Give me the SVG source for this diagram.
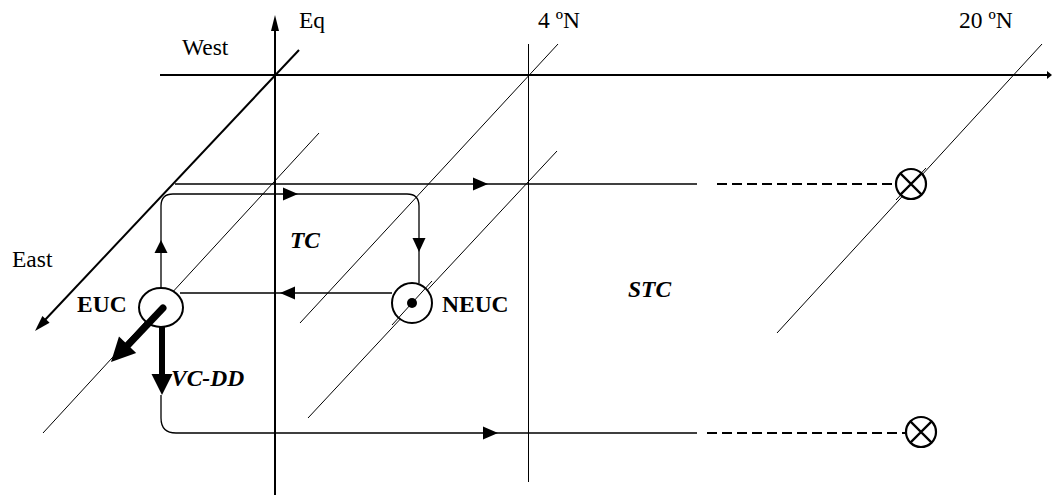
<svg xmlns="http://www.w3.org/2000/svg" width="1052" height="497" viewBox="0 0 1052 497">
<style>
.t{font-family:"Liberation Serif","Times New Roman",serif;font-size:23.5px;fill:#000}
.b{font-weight:bold}
.bi{font-weight:bold;font-style:italic}
.thin{stroke:#000;stroke-width:1;fill:none}
.med{stroke:#000;stroke-width:1.3;fill:none}
.ax{stroke:#000;stroke-width:2;fill:none}
.dash{stroke:#000;stroke-width:2;stroke-dasharray:10 5;fill:none}
.ah{fill:#000}
</style>
<rect width="1052" height="497" fill="#fff"/>
<g id="axes">
  <line class="ax" x1="160" y1="75" x2="1049" y2="75"/>
  <polygon class="ah" points="1047,71 1047,79 1052,75"/>
  <line class="ax" x1="275" y1="28" x2="275" y2="495"/>
  <polygon class="ah" points="275,15 271,31 279,31"/>
  <line class="ax" x1="299" y1="50" x2="44" y2="321"/>
  <polygon class="ah" points="35,331 49.6,322.7 42.4,315.9"/>
  <line class="thin" x1="528.5" y1="44" x2="528.5" y2="482"/>
</g>
<g id="diagonals">
  <line class="thin" x1="319" y1="133" x2="43" y2="433"/>
  <line class="thin" x1="558" y1="44" x2="300" y2="323"/>
  <line class="thin" x1="557" y1="151" x2="308" y2="418"/>
  <line class="thin" x1="1042" y1="44" x2="777" y2="333"/>
</g>
<g id="connectors">
  <line class="med" x1="175" y1="184" x2="697" y2="184"/>
  <polygon class="ah" points="488,184 473,177.5 473,190.5"/>
  <line class="dash" x1="717" y1="184" x2="896" y2="184"/>
  <path class="med" d="M161,287 V206 Q161,194 173,194 H407 Q419,194 419,206 V283"/>
  <polygon class="ah" points="161,240 154.5,253 167.5,253"/>
  <polygon class="ah" points="298,194 283,187.5 283,200.5"/>
  <polygon class="ah" points="419,252 412.5,238 425.5,238"/>
  <line class="med" x1="392" y1="293" x2="180" y2="293"/>
  <polygon class="ah" points="280,293 295,286.5 295,299.5"/>
  <path class="med" d="M161,395 V418 Q161,433 176,433 H697"/>
  <polygon class="ah" points="498,433 483,426.5 483,439.5"/>
  <line class="dash" x1="707" y1="433" x2="906" y2="433"/>
</g>
<g id="EUC">
  <ellipse cx="161" cy="307.5" rx="22" ry="19.5" fill="#fff" stroke="#000" stroke-width="2"/>
  <line x1="163" y1="308" x2="127" y2="346" stroke="#000" stroke-width="7" stroke-linecap="round"/>
  <polygon class="ah" points="111,362 136.2,353 119,336.4"/>
  <line x1="162" y1="327" x2="162" y2="376" stroke="#000" stroke-width="6"/>
  <polygon class="ah" points="151.5,374 172.5,374 162,395"/>
  <text class="t b" x="77" y="312">EUC</text>
</g>
<g id="NEUC">
  <circle cx="412" cy="303" r="20" fill="#fff" stroke="#000" stroke-width="2"/>
  <line class="thin" x1="432" y1="281" x2="392" y2="325"/>
  <circle cx="412" cy="303" r="5" fill="#000"/>
  <text class="t b" x="442" y="312">NEUC</text>
</g>
<g id="sink-top">
  <circle cx="911" cy="184" r="15" fill="#fff" stroke="#000" stroke-width="2.2"/>
  <line class="thin" x1="926" y1="168" x2="896" y2="200"/>
  <path d="M900.4,173.4 L921.6,194.6 M921.6,173.4 L900.4,194.6" stroke="#000" stroke-width="2.2"/>
</g>
<g id="sink-bottom">
  <circle cx="921" cy="432" r="15" fill="#fff" stroke="#000" stroke-width="2.2"/>
  <path d="M910.4,421.4 L931.6,442.6 M931.6,421.4 L910.4,442.6" stroke="#000" stroke-width="2.2"/>
</g>
<g id="labels">
  <text class="t" x="299" y="28">Eq</text>
  <text class="t" x="182" y="55">West</text>
  <text class="t" x="538" y="28">4 ºN</text>
  <text class="t" x="959" y="28">20 ºN</text>
  <text class="t" x="12" y="267">East</text>
  <text class="t bi" x="290" y="248">TC</text>
  <text class="t bi" x="171" y="386">VC-DD</text>
  <text class="t bi" x="628" y="297">STC</text>
</g>
</svg>
